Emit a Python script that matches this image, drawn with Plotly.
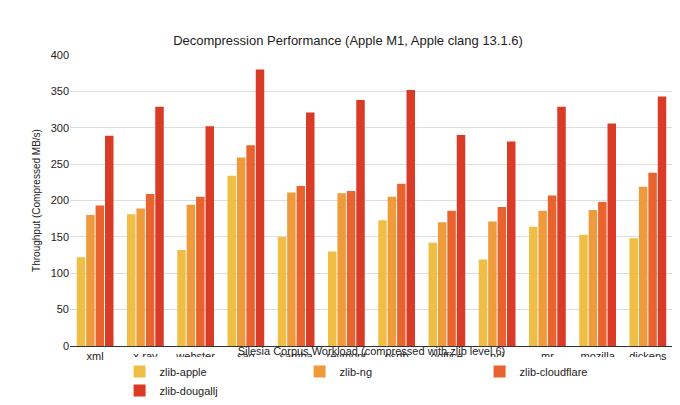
import plotly.graph_objects as go

categories = ["xml","x-ray","webster","sao","samba","reymont","osdb","ooffice","nci","mr","mozilla","dickens"]
series_names = ["zlib-apple","zlib-ng","zlib-cloudflare","zlib-dougallj"]
zlib_apple = [122,181,132,234,150,130,173,142,119,164,153,148]
zlib_ng = [180,189,194,259,211,210,205,170,171,186,187,219]
zlib_cloudflare = [193,209,205,276,220,213,223,186,191,207,198,238]
zlib_dougallj = [289,329,302,380,321,338,352,290,281,329,306,343]
colors = ["#F0BE45","#EF9B3B","#E9632F","#D93B26"]

fig = go.Figure()
for name, vals, c in zip(series_names, [zlib_apple, zlib_ng, zlib_cloudflare, zlib_dougallj], colors):
    fig.add_bar(x=categories, y=vals, name=name, marker=dict(color=c, line=dict(width=0)))

fig.update_layout(
    width=680, height=405, barmode="group", bargap=0.25, bargroupgap=0.1,
    plot_bgcolor="white", paper_bgcolor="white",
    font=dict(family="Liberation Sans, Arial", size=11, color="#222"),
    title=dict(text="Decompression Performance (Apple M1, Apple clang 13.1.6)", x=0.5, y=0.93, xanchor="center", font=dict(size=13)),
    margin=dict(l=62, r=15, t=47, b=67, autoexpand=False),
    legend=dict(orientation="h", x=0.53, xanchor="center", yref="container", y=0.02, yanchor="bottom",
                font=dict(size=11), entrywidth=135, itemwidth=30),
    xaxis=dict(title=dict(text="Silesia Corpus Workload (compressed with zlib level 6)", standoff=4, font=dict(size=11)),
               showline=True, linecolor="#333", linewidth=1, ticks="", automargin=False),
    yaxis=dict(title=dict(text="Throughput (Compressed MB/s)", standoff=8, font=dict(size=10)), range=[0,400], dtick=50,
               gridcolor="#DDDDDD", zeroline=False, ticks="", automargin=False),
)
fig.write_html("out.html")
